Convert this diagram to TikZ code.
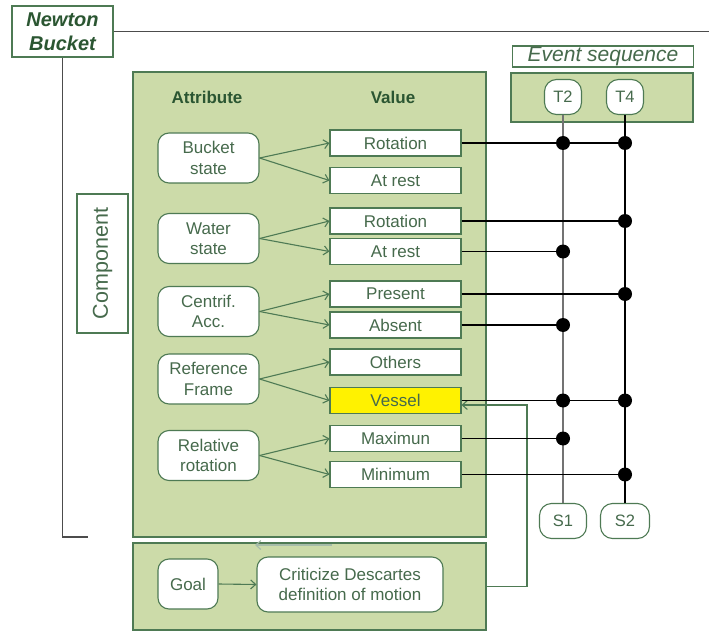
\documentclass[tikz,border=0pt]{standalone}
\usepackage{fontspec}
\setmainfont{Liberation Sans}
\usetikzlibrary{arrows.meta}
\begin{document}
\begin{tikzpicture}[x=1pt, y=-1pt,
  panel/.style={draw=edge, fill=leaf, line width=1.2pt, inner sep=0pt},
  attr/.style={draw=edge, fill=white, rounded corners=11pt, line width=1.1pt, inner sep=0pt,
    minimum width=101pt, minimum height=50pt, align=center, text=ink, font=\fontsize{17}{20.5}\selectfont},
  val/.style={draw=edge, fill=white, line width=1.1pt, inner sep=0pt,
    minimum width=131pt, minimum height=26pt, text=ink, font=\fontsize{17}{20}\selectfont},
  head/.style={text=title, font=\fontsize{17}{20}\selectfont\bfseries},
  tick/.style={draw=edge, fill=white, rounded corners=12pt, line width=1.1pt, inner sep=0pt,
    minimum height=35pt, text=ink, font=\fontsize{16.5}{20}\selectfont},
  link/.style={draw=edge, line width=1.1pt, -{Straight Barb[length=5pt,width=9pt]}},
  wire/.style={draw=black, line width=1.3pt},
  dot/.style={fill=black}]
\definecolor{leaf}{HTML}{CCDBA9}
\definecolor{edge}{HTML}{4E7A54}
\definecolor{ink}{HTML}{466A4C}
\definecolor{title}{HTML}{2B5632}
\useasboundingbox (0,0) rectangle (709,631);
% frame lines
\node[draw=edge, fill=white, line width=1.2pt, minimum width=101pt, minimum height=51pt, inner sep=0pt,
  align=center, text=title, font=\fontsize{20}{24.5}\selectfont\bfseries\itshape] (nb) at (62.5,31.5) {Newton\\Bucket};
\coordinate (topend) at (709,31.5);
\coordinate (lend) at (88,537);
\draw[line width=1.4pt, black!70] (nb.east) -- (topend);
\draw[line width=1.4pt, black!70] (nb.south) |- (lend);
\node[draw=edge, fill=white, line width=1.2pt, rotate=90, minimum width=139pt, minimum height=51pt, inner sep=0pt,
  text=ink, font=\fontsize{21.5}{24}\selectfont] (comp) at (102.5,263.5) {Component};
% panels
\node[panel, minimum width=353pt, minimum height=465pt] (attrpanel) at (309.5,304.5) {};
\node[panel, minimum width=353pt, minimum height=87pt] (goalpanel) at (309.5,586.5) {};
\node[panel, minimum width=182pt, minimum height=49pt] (evpanel) at (602,97.5) {};
\node[draw=edge, fill=white, line width=1.2pt, minimum width=181pt, minimum height=21pt, inner sep=0pt,
  text=ink, font=\fontsize{21}{22}\selectfont\itshape] (evlabel) at (603,56.5) {Event sequence};
\node[head] (hattr) at (207,97) {Attribute};
\node[head] (hval) at (393,97) {Value};
% attributes
\node[attr] (bucket) at (208.5,158) {Bucket\\state};
\node[attr] (water) at (208.5,238.5) {Water\\state};
\node[attr] (centrif) at (208.5,311.5) {Centrif.\\Acc.};
\node[attr] (frame) at (208.5,379) {Reference\\Frame};
\node[attr] (relrot) at (208.5,455.5) {Relative\\rotation};
% values
\node[val] (rot1) at (395.5,143) {Rotation};
\node[val] (rest1) at (395.5,180.5) {At rest};
\node[val] (rot2) at (395.5,221) {Rotation};
\node[val] (rest2) at (395.5,251.5) {At rest};
\node[val] (present) at (395.5,294) {Present};
\node[val] (absent) at (395.5,325) {Absent};
\node[val] (others) at (395.5,362) {Others};
\node[val, fill=yellow] (vessel) at (395.5,400.5) {Vessel};
\node[val] (maxi) at (395.5,438.5) {Maximun};
\node[val] (mini) at (395.5,474.5) {Minimum};
\draw[link] (bucket.east) -- (rot1.west);
\draw[link] (bucket.east) -- (rest1.west);
\draw[link] (water.east) -- (rot2.west);
\draw[link] (water.east) -- (rest2.west);
\draw[link] (centrif.east) -- (present.west);
\draw[link] (centrif.east) -- (absent.west);
\draw[link] (frame.east) -- (others.west);
\draw[link] (frame.east) -- (vessel.west);
\draw[link] (relrot.east) -- (maxi.west);
\draw[link] (relrot.east) -- (mini.west);
% goal
\node[attr, minimum width=60pt] (goal) at (188,584) {Goal};
\node[attr, minimum width=186pt, minimum height=55pt] (crit) at (350,584.5) {Criticize Descartes\\definition of motion};
\draw[link] (goal.east) -- (crit.west);
\coordinate (gs) at (332,545);
\coordinate (ge) at (255,545);
\draw[draw=edge!50, line width=1.1pt, -{Straight Barb[length=5pt,width=9pt]}] (gs) -- (ge);
\draw[link] (goalpanel.east) -- (527,586.5) -- (527,405) -- ([yshift=-4.5pt]vessel.east);
% event sequence
\node[tick, minimum width=37pt] (T2) at (563,97) {T2};
\node[tick, minimum width=37pt] (T4) at (625,97) {T4};
\node[tick, minimum width=47pt] (S1) at (563,521) {S1};
\node[tick, minimum width=49pt] (S2) at (625,521) {S2};
\draw[line width=2pt, black!55] (T2.south) -- (S1.north);
\draw[wire] (T4.south) -- (S2.north);
\draw[wire] (rot1.east) -- (rot1 -| T4);
\draw[wire] (rot2.east) -- (rot2 -| T4);
\draw[wire] (rest2.east) -- (rest2 -| T2);
\draw[wire] (present.east) -- (present -| T4);
\draw[wire] (absent.east) -- (absent -| T2);
\draw[wire] (vessel.east) -- (vessel -| T4);
\draw[wire] (maxi.east) -- (maxi -| T2);
\draw[wire] (mini.east) -- (mini -| T4);
\fill[dot] (rot1 -| T2) circle (7pt) (rot1 -| T4) circle (7pt);
\fill[dot] (rot2 -| T4) circle (7pt);
\fill[dot] (rest2 -| T2) circle (7pt);
\fill[dot] (present -| T4) circle (7pt);
\fill[dot] (absent -| T2) circle (7pt);
\fill[dot] (vessel -| T2) circle (7pt) (vessel -| T4) circle (7pt);
\fill[dot] (maxi -| T2) circle (7pt);
\fill[dot] (mini -| T4) circle (7pt);
\end{tikzpicture}
\end{document}
